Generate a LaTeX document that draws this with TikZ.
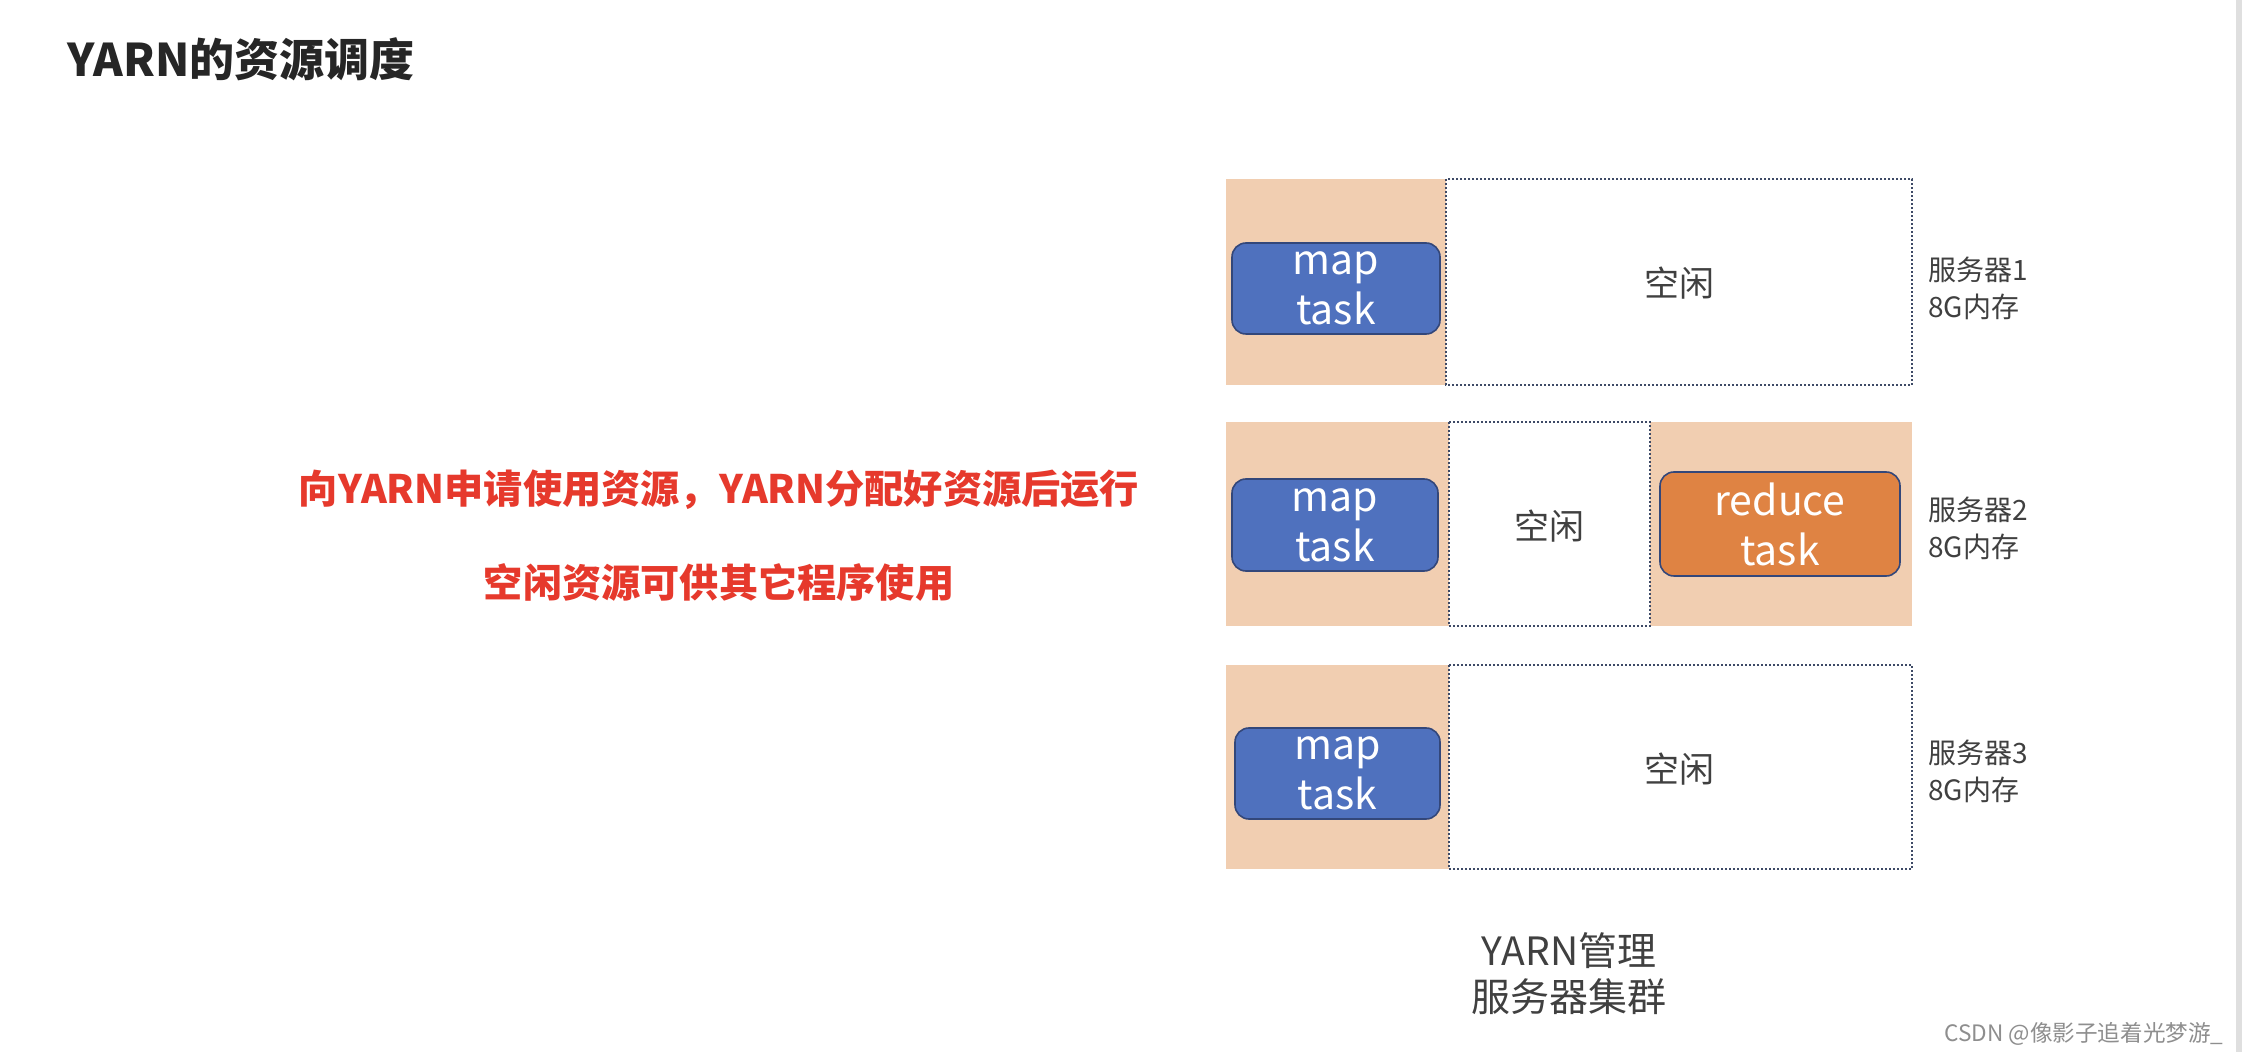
\documentclass[tikz,border=0pt]{standalone}
\usepackage{fontspec}
\setmainfont{Noto Sans CJK SC}
\definecolor{peach}{HTML}{F1CEB1}
\definecolor{mapblue}{HTML}{4F71BE}
\definecolor{redorange}{HTML}{DF8343}
\definecolor{boxedge}{HTML}{33477A}
\definecolor{dotedge}{HTML}{3E4A66}
\definecolor{txtgray}{HTML}{404040}
\definecolor{titlegray}{HTML}{262626}
\definecolor{alertred}{HTML}{E6392C}
\definecolor{wmgray}{HTML}{8E8E8E}
\begin{document}
\begin{tikzpicture}[x=0.5pt,y=-0.5pt,
  peachbg/.style={fill=peach,draw=none},
  idlebox/.style={fill=white,draw=dotedge,line width=0.7pt,dash pattern=on 1pt off 1pt},
  taskbox/.style={rounded corners=7pt,draw=boxedge,line width=0.8pt,text=white,align=center,
     inner sep=0pt,font=\fontsize{20.5}{25}\selectfont},
  idletext/.style={text=txtgray,font=\fontsize{17.5}{20}\selectfont},
  srvlabel/.style={anchor=west,align=left,text=txtgray,inner sep=0pt,font=\fontsize{14}{18.5}\selectfont}]
\useasboundingbox (0,0) rectangle (2242,1052);
\fill[white] (0,0) rectangle (2242,1052);
\fill[gray!25] (2236,0) rectangle (2242,1052);
% title
\node[anchor=west,inner sep=0pt,text=titlegray,font=\fontsize{22.5}{26}\bfseries] (title) at (67,59) {YARN的资源调度};
% red text
\node[inner sep=0pt,text=alertred,font=\fontsize{19.6}{22}\bfseries] (msg1) at (719,490) {向YARN申请使用资源，YARN分配好资源后运行};
\node[inner sep=0pt,text=alertred,font=\fontsize{19.6}{22}\bfseries] (msg2) at (719,583) {空闲资源可供其它程序使用};
% row 1
\fill[peachbg] (1226,179) rectangle (1912,385);
\draw[idlebox] (1446,179) rectangle (1912,385);
\node[idletext] (idle1) at (1679,283) {空闲};
\node[taskbox,fill=mapblue,minimum width=104pt,minimum height=45.5pt] (map1) at (1336,288.5) {map\\task};
\node[srvlabel] (srv1) at (1928,288) {服务器1\\8G内存};
% row 2
\fill[peachbg] (1226,422) rectangle (1912,626);
\draw[idlebox] (1449,422) rectangle (1650,626);
\node[idletext] (idle2) at (1549,526) {空闲};
\node[taskbox,fill=mapblue,minimum width=103pt,minimum height=46pt] (map2) at (1335,525) {map\\task};
\node[taskbox,fill=redorange,minimum width=120pt,minimum height=52pt] (reduce) at (1780,524) {reduce\\task};
\node[srvlabel] (srv2) at (1928,528) {服务器2\\8G内存};
% row 3
\fill[peachbg] (1226,665) rectangle (1912,869);
\draw[idlebox] (1449,665) rectangle (1912,869);
\node[idletext] (idle3) at (1679,769) {空闲};
\node[taskbox,fill=mapblue,minimum width=102.5pt,minimum height=45.5pt] (map3) at (1337.5,773.5) {map\\task};
\node[srvlabel] (srv3) at (1928,771) {服务器3\\8G内存};
% cluster caption
\node[align=center,text=txtgray,inner sep=0pt,font=\fontsize{19.5}{23}\selectfont] (cluster) at (1569,974) {YARN管理\\服务器集群};
% watermark
\node[anchor=east,inner sep=0pt,text=wmgray,font=\fontsize{11.3}{14}\selectfont] (wm) at (2224,1034) {CSDN @像影子追着光梦游\_};
\end{tikzpicture}
\end{document}
